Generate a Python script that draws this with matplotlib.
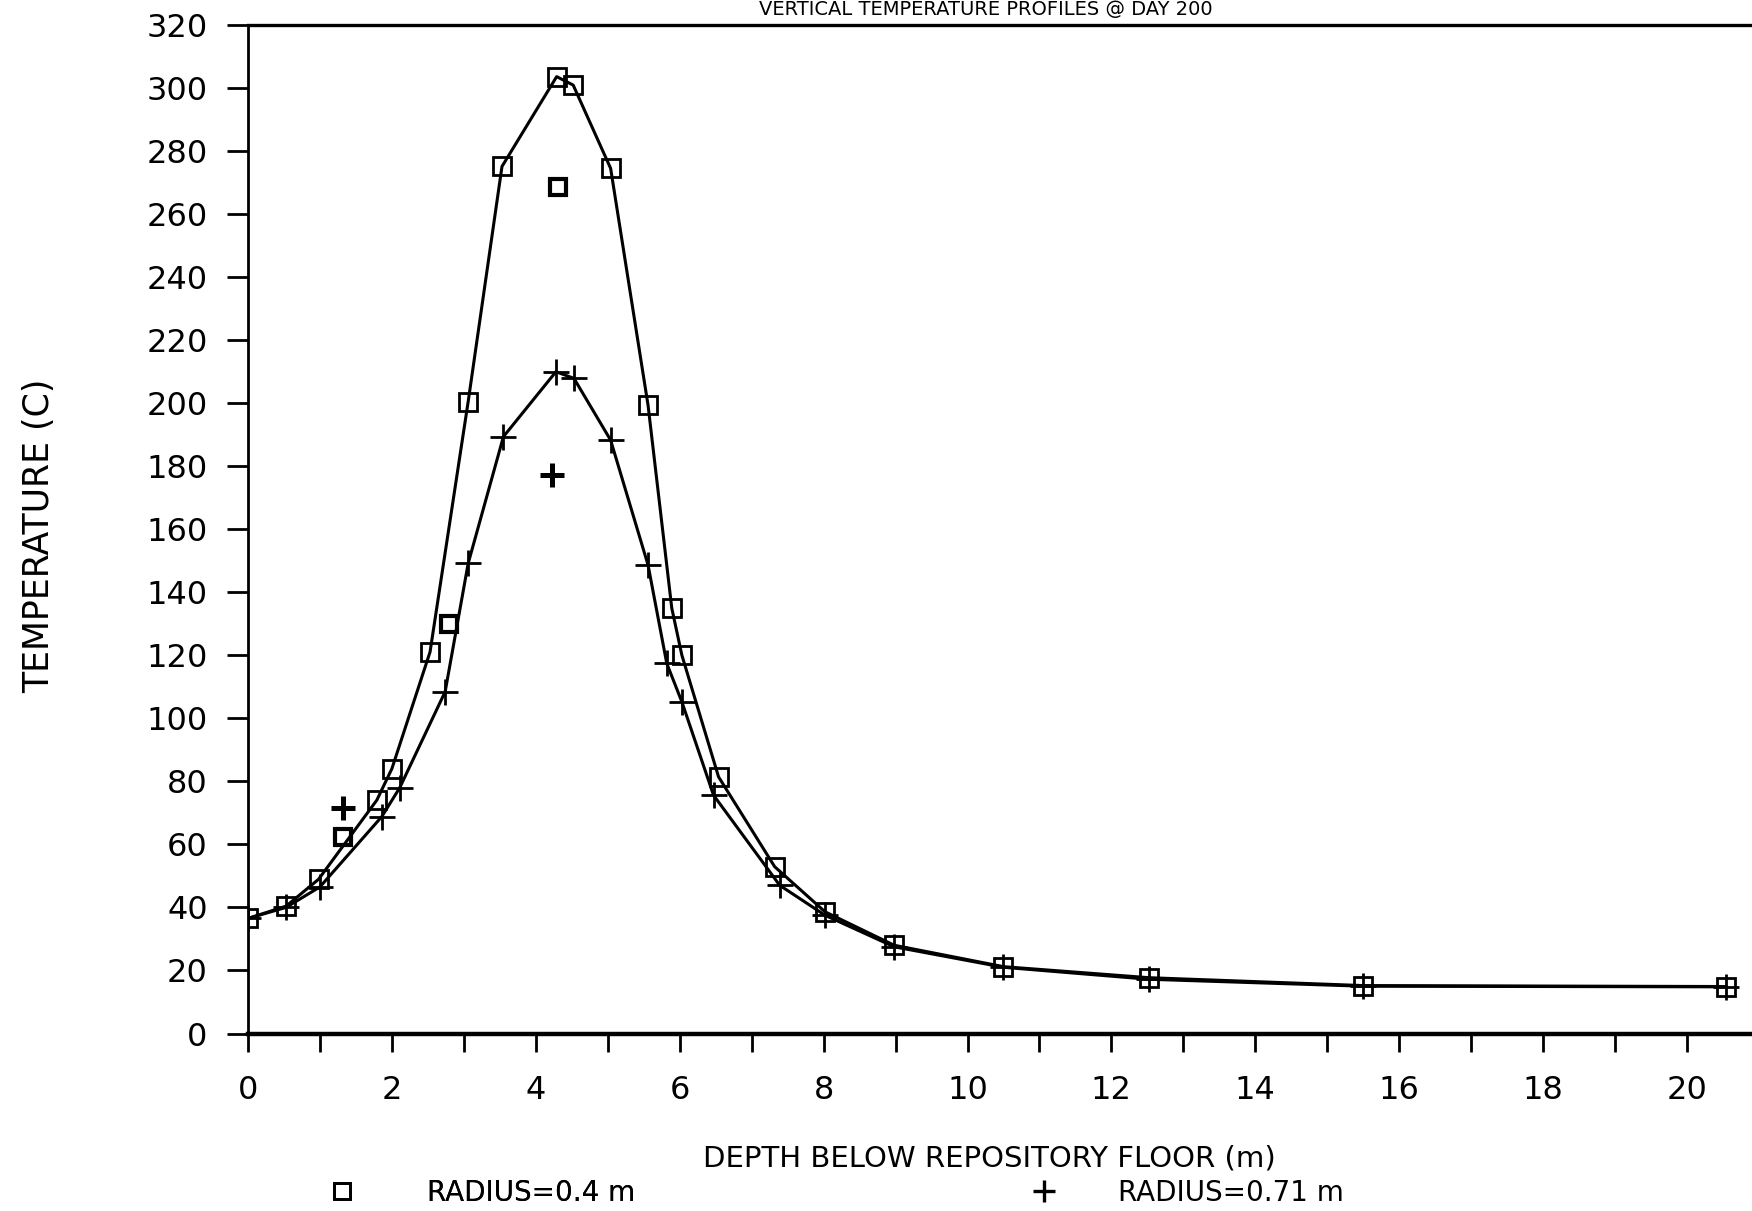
import numpy as np
import matplotlib
matplotlib.use("Agg")
import matplotlib.pyplot as plt
from matplotlib.lines import Line2D

# depth (m) and temperature (C)
depth_r040 = [0, 0.53, 0.98, 1.79, 2.0, 2.53, 3.06, 3.53, 4.29, 4.52, 5.04,
              5.56, 5.89, 6.03, 6.54, 7.32, 8.02, 8.98, 10.5, 12.52, 15.5, 20.54]
temp_r040 = [36.5, 40.4, 48.9, 74, 84, 121, 200.4, 275, 303.5, 300.8, 274.4,
             199.3, 134.9, 120, 81.4, 52.9, 38.6, 28, 21.2, 17.7, 15.2, 14.9]

depth_r071 = [0, 0.53, 1.0, 1.86, 2.11, 2.74, 3.06, 3.55, 4.28, 4.53, 5.04,
              5.56, 5.82, 6.03, 6.47, 7.39, 8.02, 8.98, 10.5, 12.52, 15.5, 20.54]
temp_r071 = [36.5, 40, 46.5, 68.8, 78, 108.4, 149.1, 189.3, 209.9, 207.8, 188.2,
             148.6, 117.4, 105.2, 75.6, 47, 37.5, 27.5, 21, 17.2, 15, 14.8]

# stray symbols not joined by the curves
odd_depth_r040 = [1.32, 2.8, 4.31]
odd_temp_r040 = [62.4, 130, 268.6]
odd_depth_r071 = [1.32, 4.23]
odd_temp_r071 = [71.4, 177.1]

x_ticks = list(range(0, 21, 2))
y_ticks = list(range(0, 321, 20))

plt.rcParams['font.family'] = 'DejaVu Sans'

fig = plt.figure(figsize=(17.52, 12.11), dpi=100)
W, H = 1752, 1211
ax = fig.add_axes([248 / W, 1 - 1033.5 / H, 1 - 248 / W, (1033.5 - 24.6) / H])

ax.plot(depth_r040, temp_r040, color='black', lw=2.2, marker='s', ms=13.5,
        mfc='none', mec='black', mew=2.0)
ax.plot(depth_r071, temp_r071, color='black', lw=2.2, marker='+', ms=19,
        mew=2.0)
ax.plot(odd_depth_r040, odd_temp_r040, ls='none', marker='s', ms=12,
        mfc='none', mec='black', mew=3.0)
ax.plot(odd_depth_r071, odd_temp_r071, ls='none', marker='+', ms=17, mew=3.6,
        color='black')

ax.set_xlim(0, (W - 248) / 71.95)
ax.set_ylim(0, 320)
ax.set_xticks(x_ticks)
ax.set_xticks(range(1, 21, 2), minor=True)
ax.set_yticks(y_ticks)

ax.spines['right'].set_visible(False)
ax.spines['bottom'].set_linewidth(3.2)
ax.spines['left'].set_linewidth(2.0)
ax.spines['top'].set_linewidth(2.4)

ax.tick_params(axis='x', which='both', direction='out', length=13, width=2.0,
               pad=17, labelsize=23)
ax.tick_params(axis='y', direction='out', length=15, width=2.0, pad=14,
               labelsize=23)

fig.text(39 / W, 1 - 536 / H, 'TEMPERATURE (C)', rotation=90, fontsize=25,
         ha='center', va='center')
fig.text(989 / W, 1 - 1158 / H, 'DEPTH BELOW REPOSITORY FLOOR (m)',
         fontsize=21, ha='center', va='center')
fig.text(986 / W, 1 - 0.5 / H, 'VERTICAL TEMPERATURE PROFILES @ DAY 200',
         fontsize=14, ha='center', va='top')

leg_y = 1 - 1193 / H
key_sq = Line2D([], [], ls='none', marker='s', ms=11, mfc='none',
                mec='black', mew=2.0)
key_pl = Line2D([], [], ls='none', marker='+', ms=16, mew=2.4, color='black')
leg1 = fig.legend([key_sq], ['RADIUS=0.4 m'], loc='center left',
                  bbox_to_anchor=((343 - 8) / W, leg_y), frameon=False,
                  fontsize=20, handlelength=0.5, handletextpad=2.8,
                  borderpad=0, borderaxespad=0)
fig.add_artist(leg1)
fig.legend([key_pl], ['RADIUS=0.71 m'], loc='center left',
           bbox_to_anchor=((1045 - 8) / W, leg_y), frameon=False,
           fontsize=20, handlelength=0.5, handletextpad=2.4,
           borderpad=0, borderaxespad=0)

fig.savefig('out.png', dpi=100)
